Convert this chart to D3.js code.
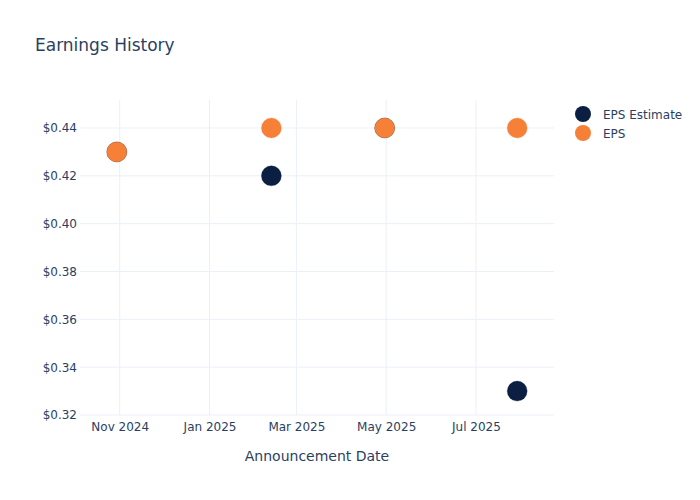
<!DOCTYPE html>
<html><head><meta charset="utf-8">
<script src="https://cdn.jsdelivr.net/npm/d3@7"></script>
<style>body{margin:0;background:#fff}svg{font-family:"DejaVu Sans",Verdana,sans-serif}</style>
</head><body>
<svg id="c" width="700" height="500"></svg>
<script>
const dates = ["2024-10-30","2025-02-12","2025-04-30","2025-07-29"];
const epsEstimate = [0.43, 0.42, 0.44, 0.33];
const eps = [0.43, 0.44, 0.44, 0.44];
const yTicks = [0.32,0.34,0.36,0.38,0.40,0.42,0.44];
const xTickDates = ["2024-11-01","2025-01-01","2025-03-01","2025-05-01","2025-07-01"];
const xTickLabels = ["Nov 2024","Jan 2025","Mar 2025","May 2025","Jul 2025"];
const seriesNames = ["EPS Estimate","EPS"];
const colors = ["#0b1f42","#f68038"];

const svg = d3.select("#c");
const L=80,R=554,T=100,B=415;
const p = d3.utcParse("%Y-%m-%d");
const x = d3.scaleUtc().domain([p("2024-10-05"), p("2025-08-23")]).range([L,R]);
const y = d3.scaleLinear().domain([0.32,0.4517]).range([B,T]);
const txt="#2a3f5f", grid="#ebf0f8";
const ff="'DejaVu Sans',Verdana,sans-serif";

// grid
svg.append("g").selectAll("line").data(yTicks).join("line")
  .attr("x1",L).attr("x2",R).attr("y1",d=>y(d)).attr("y2",d=>y(d))
  .attr("stroke",grid).attr("stroke-width",1);
svg.append("g").selectAll("line").data(xTickDates).join("line")
  .attr("x1",d=>x(p(d))).attr("x2",d=>x(p(d))).attr("y1",T).attr("y2",B)
  .attr("stroke",grid).attr("stroke-width",1);

// axes
const ya = d3.axisLeft(y).tickValues(yTicks).tickFormat(d=>"$"+d.toFixed(2)).tickSize(0).tickPadding(3);
svg.append("g").attr("transform",`translate(${L},0)`).call(ya)
  .call(g=>g.select(".domain").remove())
  .call(g=>g.selectAll("text").attr("fill",txt).attr("font-size",12).attr("font-family",ff));
const xa = d3.axisBottom(x).tickValues(xTickDates.map(p)).tickFormat((d,i)=>xTickLabels[i]).tickSize(0).tickPadding(7);
svg.append("g").attr("transform",`translate(0,${B})`).call(xa)
  .call(g=>g.select(".domain").remove())
  .call(g=>g.selectAll("text").attr("fill",txt).attr("font-size",12).attr("font-family",ff));

// points
[epsEstimate, eps].forEach((vals,si)=>{
  svg.append("g").selectAll("circle").data(vals).join("circle")
    .attr("cx",(d,i)=>x(p(dates[i]))).attr("cy",d=>y(d)).attr("r",10)
    .attr("fill",colors[si]).attr("stroke",colors[si]).attr("stroke-opacity",0.6).attr("stroke-width",0.5);
});

// title
svg.append("text").attr("x",35).attr("y",51).text("Earnings History")
  .attr("fill",txt).attr("font-size",17);
svg.append("text").attr("x",(L+R)/2).attr("y",461).attr("text-anchor","middle")
  .text("Announcement Date").attr("fill",txt).attr("font-size",14);

// legend
seriesNames.forEach((n,i)=>{
  const g = svg.append("g").attr("transform",`translate(583,${114+i*19})`);
  g.append("circle").attr("r",8).attr("fill",colors[i]);
  g.append("text").attr("x",20).attr("y",4.5).text(n).attr("fill",txt).attr("font-size",12);
});
</script>
</body></html>
